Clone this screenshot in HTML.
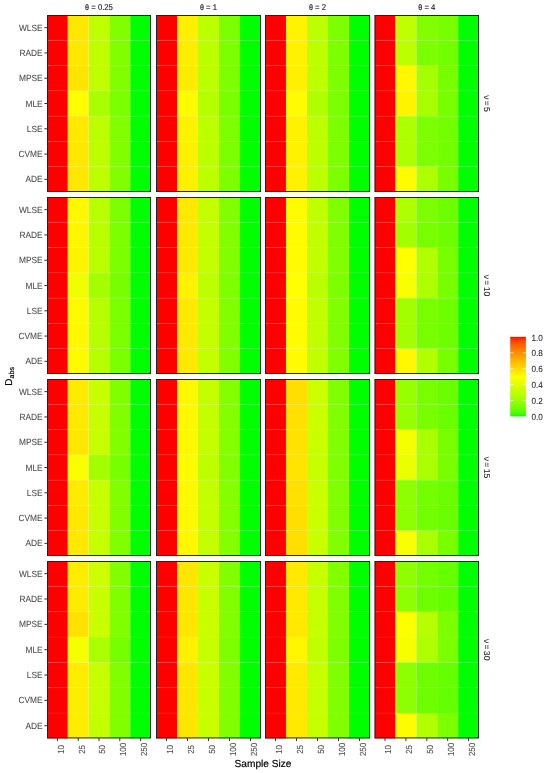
<!DOCTYPE html><html><head><meta charset="utf-8"><style>html,body{margin:0;padding:0;background:#fff;}svg{display:block;will-change:transform;}text{font-family:"Liberation Sans", sans-serif;text-rendering:geometricPrecision;}</style></head><body>
<svg width="550" height="773" viewBox="0 0 550 773">
<rect width="550" height="773" fill="#fff"/>
<rect x="47.00" y="15.00" width="20.82" height="25.31" fill="#ff0000"/>
<rect x="67.80" y="15.00" width="20.82" height="25.31" fill="#ffe700"/>
<rect x="88.60" y="15.00" width="20.82" height="25.31" fill="#c0ff00"/>
<rect x="109.40" y="15.00" width="20.82" height="25.31" fill="#81ff00"/>
<rect x="130.20" y="15.00" width="20.82" height="25.31" fill="#00ff00"/>
<rect x="47.00" y="40.29" width="20.82" height="25.31" fill="#ff0000"/>
<rect x="67.80" y="40.29" width="20.82" height="25.31" fill="#ffe700"/>
<rect x="88.60" y="40.29" width="20.82" height="25.31" fill="#c0ff00"/>
<rect x="109.40" y="40.29" width="20.82" height="25.31" fill="#81ff00"/>
<rect x="130.20" y="40.29" width="20.82" height="25.31" fill="#00ff00"/>
<rect x="47.00" y="65.57" width="20.82" height="25.31" fill="#ff0000"/>
<rect x="67.80" y="65.57" width="20.82" height="25.31" fill="#ffe400"/>
<rect x="88.60" y="65.57" width="20.82" height="25.31" fill="#c0ff00"/>
<rect x="109.40" y="65.57" width="20.82" height="25.31" fill="#81ff00"/>
<rect x="130.20" y="65.57" width="20.82" height="25.31" fill="#00ff00"/>
<rect x="47.00" y="90.86" width="20.82" height="25.31" fill="#ff0000"/>
<rect x="67.80" y="90.86" width="20.82" height="25.31" fill="#fffd00"/>
<rect x="88.60" y="90.86" width="20.82" height="25.31" fill="#a8ff00"/>
<rect x="109.40" y="90.86" width="20.82" height="25.31" fill="#7cff00"/>
<rect x="130.20" y="90.86" width="20.82" height="25.31" fill="#00ff00"/>
<rect x="47.00" y="116.14" width="20.82" height="25.31" fill="#ff0000"/>
<rect x="67.80" y="116.14" width="20.82" height="25.31" fill="#ffe900"/>
<rect x="88.60" y="116.14" width="20.82" height="25.31" fill="#bcff00"/>
<rect x="109.40" y="116.14" width="20.82" height="25.31" fill="#81ff00"/>
<rect x="130.20" y="116.14" width="20.82" height="25.31" fill="#00ff00"/>
<rect x="47.00" y="141.43" width="20.82" height="25.31" fill="#ff0000"/>
<rect x="67.80" y="141.43" width="20.82" height="25.31" fill="#ffe700"/>
<rect x="88.60" y="141.43" width="20.82" height="25.31" fill="#beff00"/>
<rect x="109.40" y="141.43" width="20.82" height="25.31" fill="#81ff00"/>
<rect x="130.20" y="141.43" width="20.82" height="25.31" fill="#00ff00"/>
<rect x="47.00" y="166.71" width="20.82" height="25.31" fill="#ff0000"/>
<rect x="67.80" y="166.71" width="20.82" height="25.31" fill="#ffe700"/>
<rect x="88.60" y="166.71" width="20.82" height="25.31" fill="#beff00"/>
<rect x="109.40" y="166.71" width="20.82" height="25.31" fill="#81ff00"/>
<rect x="130.20" y="166.71" width="20.82" height="25.31" fill="#00ff00"/>
<path d="M47.00 40.29H151.00M47.00 65.57H151.00M47.00 90.86H151.00M47.00 116.14H151.00M47.00 141.43H151.00M47.00 166.71H151.00" stroke="#ffffff" stroke-opacity="0.13" stroke-width="0.6" fill="none"/>
<path d="M67.80 15.00V192.00M88.60 15.00V192.00M109.40 15.00V192.00M130.20 15.00V192.00" stroke="#ffffff" stroke-opacity="0.09" stroke-width="0.6" fill="none"/>
<rect x="47.50" y="15.50" width="103.00" height="176.00" fill="none" stroke="#222" stroke-width="1"/>
<rect x="156.00" y="15.00" width="21.02" height="25.31" fill="#ff0000"/>
<rect x="177.00" y="15.00" width="21.02" height="25.31" fill="#ffef00"/>
<rect x="198.00" y="15.00" width="21.02" height="25.31" fill="#bcff00"/>
<rect x="219.00" y="15.00" width="21.02" height="25.31" fill="#7cff00"/>
<rect x="240.00" y="15.00" width="21.02" height="25.31" fill="#00ff00"/>
<rect x="156.00" y="40.29" width="21.02" height="25.31" fill="#ff0000"/>
<rect x="177.00" y="40.29" width="21.02" height="25.31" fill="#ffed00"/>
<rect x="198.00" y="40.29" width="21.02" height="25.31" fill="#bcff00"/>
<rect x="219.00" y="40.29" width="21.02" height="25.31" fill="#7cff00"/>
<rect x="240.00" y="40.29" width="21.02" height="25.31" fill="#00ff00"/>
<rect x="156.00" y="65.57" width="21.02" height="25.31" fill="#ff0000"/>
<rect x="177.00" y="65.57" width="21.02" height="25.31" fill="#ffeb00"/>
<rect x="198.00" y="65.57" width="21.02" height="25.31" fill="#bcff00"/>
<rect x="219.00" y="65.57" width="21.02" height="25.31" fill="#7cff00"/>
<rect x="240.00" y="65.57" width="21.02" height="25.31" fill="#00ff00"/>
<rect x="156.00" y="90.86" width="21.02" height="25.31" fill="#ff0000"/>
<rect x="177.00" y="90.86" width="21.02" height="25.31" fill="#fffb00"/>
<rect x="198.00" y="90.86" width="21.02" height="25.31" fill="#b5ff00"/>
<rect x="219.00" y="90.86" width="21.02" height="25.31" fill="#7aff00"/>
<rect x="240.00" y="90.86" width="21.02" height="25.31" fill="#00ff00"/>
<rect x="156.00" y="116.14" width="21.02" height="25.31" fill="#ff0000"/>
<rect x="177.00" y="116.14" width="21.02" height="25.31" fill="#fff200"/>
<rect x="198.00" y="116.14" width="21.02" height="25.31" fill="#bcff00"/>
<rect x="219.00" y="116.14" width="21.02" height="25.31" fill="#7cff00"/>
<rect x="240.00" y="116.14" width="21.02" height="25.31" fill="#00ff00"/>
<rect x="156.00" y="141.43" width="21.02" height="25.31" fill="#ff0000"/>
<rect x="177.00" y="141.43" width="21.02" height="25.31" fill="#fff000"/>
<rect x="198.00" y="141.43" width="21.02" height="25.31" fill="#bcff00"/>
<rect x="219.00" y="141.43" width="21.02" height="25.31" fill="#7cff00"/>
<rect x="240.00" y="141.43" width="21.02" height="25.31" fill="#00ff00"/>
<rect x="156.00" y="166.71" width="21.02" height="25.31" fill="#ff0000"/>
<rect x="177.00" y="166.71" width="21.02" height="25.31" fill="#fff000"/>
<rect x="198.00" y="166.71" width="21.02" height="25.31" fill="#bcff00"/>
<rect x="219.00" y="166.71" width="21.02" height="25.31" fill="#7cff00"/>
<rect x="240.00" y="166.71" width="21.02" height="25.31" fill="#00ff00"/>
<path d="M156.00 40.29H261.00M156.00 65.57H261.00M156.00 90.86H261.00M156.00 116.14H261.00M156.00 141.43H261.00M156.00 166.71H261.00" stroke="#ffffff" stroke-opacity="0.13" stroke-width="0.6" fill="none"/>
<path d="M177.00 15.00V192.00M198.00 15.00V192.00M219.00 15.00V192.00M240.00 15.00V192.00" stroke="#ffffff" stroke-opacity="0.09" stroke-width="0.6" fill="none"/>
<rect x="156.50" y="15.50" width="104.00" height="176.00" fill="none" stroke="#222" stroke-width="1"/>
<rect x="265.00" y="15.00" width="21.02" height="25.31" fill="#ff0000"/>
<rect x="286.00" y="15.00" width="21.02" height="25.31" fill="#fff400"/>
<rect x="307.00" y="15.00" width="21.02" height="25.31" fill="#bcff00"/>
<rect x="328.00" y="15.00" width="21.02" height="25.31" fill="#7eff00"/>
<rect x="349.00" y="15.00" width="21.02" height="25.31" fill="#00ff00"/>
<rect x="265.00" y="40.29" width="21.02" height="25.31" fill="#ff0000"/>
<rect x="286.00" y="40.29" width="21.02" height="25.31" fill="#fff200"/>
<rect x="307.00" y="40.29" width="21.02" height="25.31" fill="#bcff00"/>
<rect x="328.00" y="40.29" width="21.02" height="25.31" fill="#7eff00"/>
<rect x="349.00" y="40.29" width="21.02" height="25.31" fill="#00ff00"/>
<rect x="265.00" y="65.57" width="21.02" height="25.31" fill="#ff0000"/>
<rect x="286.00" y="65.57" width="21.02" height="25.31" fill="#ffef00"/>
<rect x="307.00" y="65.57" width="21.02" height="25.31" fill="#bcff00"/>
<rect x="328.00" y="65.57" width="21.02" height="25.31" fill="#7eff00"/>
<rect x="349.00" y="65.57" width="21.02" height="25.31" fill="#00ff00"/>
<rect x="265.00" y="90.86" width="21.02" height="25.31" fill="#ff0000"/>
<rect x="286.00" y="90.86" width="21.02" height="25.31" fill="#fffb00"/>
<rect x="307.00" y="90.86" width="21.02" height="25.31" fill="#b0ff00"/>
<rect x="328.00" y="90.86" width="21.02" height="25.31" fill="#7cff00"/>
<rect x="349.00" y="90.86" width="21.02" height="25.31" fill="#00ff00"/>
<rect x="265.00" y="116.14" width="21.02" height="25.31" fill="#ff0000"/>
<rect x="286.00" y="116.14" width="21.02" height="25.31" fill="#fff200"/>
<rect x="307.00" y="116.14" width="21.02" height="25.31" fill="#bcff00"/>
<rect x="328.00" y="116.14" width="21.02" height="25.31" fill="#7eff00"/>
<rect x="349.00" y="116.14" width="21.02" height="25.31" fill="#00ff00"/>
<rect x="265.00" y="141.43" width="21.02" height="25.31" fill="#ff0000"/>
<rect x="286.00" y="141.43" width="21.02" height="25.31" fill="#fff200"/>
<rect x="307.00" y="141.43" width="21.02" height="25.31" fill="#bcff00"/>
<rect x="328.00" y="141.43" width="21.02" height="25.31" fill="#7eff00"/>
<rect x="349.00" y="141.43" width="21.02" height="25.31" fill="#00ff00"/>
<rect x="265.00" y="166.71" width="21.02" height="25.31" fill="#ff0000"/>
<rect x="286.00" y="166.71" width="21.02" height="25.31" fill="#fff200"/>
<rect x="307.00" y="166.71" width="21.02" height="25.31" fill="#bcff00"/>
<rect x="328.00" y="166.71" width="21.02" height="25.31" fill="#7eff00"/>
<rect x="349.00" y="166.71" width="21.02" height="25.31" fill="#00ff00"/>
<path d="M265.00 40.29H370.00M265.00 65.57H370.00M265.00 90.86H370.00M265.00 116.14H370.00M265.00 141.43H370.00M265.00 166.71H370.00" stroke="#ffffff" stroke-opacity="0.13" stroke-width="0.6" fill="none"/>
<path d="M286.00 15.00V192.00M307.00 15.00V192.00M328.00 15.00V192.00M349.00 15.00V192.00" stroke="#ffffff" stroke-opacity="0.09" stroke-width="0.6" fill="none"/>
<rect x="265.50" y="15.50" width="104.00" height="176.00" fill="none" stroke="#222" stroke-width="1"/>
<rect x="374.60" y="15.00" width="20.90" height="25.31" fill="#ff0000"/>
<rect x="395.48" y="15.00" width="20.90" height="25.31" fill="#c0ff00"/>
<rect x="416.36" y="15.00" width="20.90" height="25.31" fill="#81ff00"/>
<rect x="437.24" y="15.00" width="20.90" height="25.31" fill="#77ff00"/>
<rect x="458.12" y="15.00" width="20.90" height="25.31" fill="#00ff00"/>
<rect x="374.60" y="40.29" width="20.90" height="25.31" fill="#ff0000"/>
<rect x="395.48" y="40.29" width="20.90" height="25.31" fill="#bcff00"/>
<rect x="416.36" y="40.29" width="20.90" height="25.31" fill="#7cff00"/>
<rect x="437.24" y="40.29" width="20.90" height="25.31" fill="#72ff00"/>
<rect x="458.12" y="40.29" width="20.90" height="25.31" fill="#00ff00"/>
<rect x="374.60" y="65.57" width="20.90" height="25.31" fill="#ff0000"/>
<rect x="395.48" y="65.57" width="20.90" height="25.31" fill="#fff800"/>
<rect x="416.36" y="65.57" width="20.90" height="25.31" fill="#a6ff00"/>
<rect x="437.24" y="65.57" width="20.90" height="25.31" fill="#77ff00"/>
<rect x="458.12" y="65.57" width="20.90" height="25.31" fill="#00ff00"/>
<rect x="374.60" y="90.86" width="20.90" height="25.31" fill="#ff0000"/>
<rect x="395.48" y="90.86" width="20.90" height="25.31" fill="#fff400"/>
<rect x="416.36" y="90.86" width="20.90" height="25.31" fill="#a8ff00"/>
<rect x="437.24" y="90.86" width="20.90" height="25.31" fill="#77ff00"/>
<rect x="458.12" y="90.86" width="20.90" height="25.31" fill="#00ff00"/>
<rect x="374.60" y="116.14" width="20.90" height="25.31" fill="#ff0000"/>
<rect x="395.48" y="116.14" width="20.90" height="25.31" fill="#aeff00"/>
<rect x="416.36" y="116.14" width="20.90" height="25.31" fill="#7cff00"/>
<rect x="437.24" y="116.14" width="20.90" height="25.31" fill="#72ff00"/>
<rect x="458.12" y="116.14" width="20.90" height="25.31" fill="#00ff00"/>
<rect x="374.60" y="141.43" width="20.90" height="25.31" fill="#ff0000"/>
<rect x="395.48" y="141.43" width="20.90" height="25.31" fill="#aeff00"/>
<rect x="416.36" y="141.43" width="20.90" height="25.31" fill="#7cff00"/>
<rect x="437.24" y="141.43" width="20.90" height="25.31" fill="#72ff00"/>
<rect x="458.12" y="141.43" width="20.90" height="25.31" fill="#00ff00"/>
<rect x="374.60" y="166.71" width="20.90" height="25.31" fill="#ff0000"/>
<rect x="395.48" y="166.71" width="20.90" height="25.31" fill="#fffb00"/>
<rect x="416.36" y="166.71" width="20.90" height="25.31" fill="#aeff00"/>
<rect x="437.24" y="166.71" width="20.90" height="25.31" fill="#77ff00"/>
<rect x="458.12" y="166.71" width="20.90" height="25.31" fill="#00ff00"/>
<path d="M374.60 40.29H479.00M374.60 65.57H479.00M374.60 90.86H479.00M374.60 116.14H479.00M374.60 141.43H479.00M374.60 166.71H479.00" stroke="#ffffff" stroke-opacity="0.13" stroke-width="0.6" fill="none"/>
<path d="M395.48 15.00V192.00M416.36 15.00V192.00M437.24 15.00V192.00M458.12 15.00V192.00" stroke="#ffffff" stroke-opacity="0.09" stroke-width="0.6" fill="none"/>
<rect x="375.10" y="15.50" width="103.40" height="176.00" fill="none" stroke="#222" stroke-width="1"/>
<rect x="47.00" y="197.00" width="20.82" height="25.31" fill="#ff0000"/>
<rect x="67.80" y="197.00" width="20.82" height="25.31" fill="#fff800"/>
<rect x="88.60" y="197.00" width="20.82" height="25.31" fill="#b9ff00"/>
<rect x="109.40" y="197.00" width="20.82" height="25.31" fill="#7cff00"/>
<rect x="130.20" y="197.00" width="20.82" height="25.31" fill="#00ff00"/>
<rect x="47.00" y="222.29" width="20.82" height="25.31" fill="#ff0000"/>
<rect x="67.80" y="222.29" width="20.82" height="25.31" fill="#fff600"/>
<rect x="88.60" y="222.29" width="20.82" height="25.31" fill="#b9ff00"/>
<rect x="109.40" y="222.29" width="20.82" height="25.31" fill="#7cff00"/>
<rect x="130.20" y="222.29" width="20.82" height="25.31" fill="#00ff00"/>
<rect x="47.00" y="247.57" width="20.82" height="25.31" fill="#ff0000"/>
<rect x="67.80" y="247.57" width="20.82" height="25.31" fill="#fff400"/>
<rect x="88.60" y="247.57" width="20.82" height="25.31" fill="#b9ff00"/>
<rect x="109.40" y="247.57" width="20.82" height="25.31" fill="#7cff00"/>
<rect x="130.20" y="247.57" width="20.82" height="25.31" fill="#00ff00"/>
<rect x="47.00" y="272.86" width="20.82" height="25.31" fill="#ff0000"/>
<rect x="67.80" y="272.86" width="20.82" height="25.31" fill="#f0ff00"/>
<rect x="88.60" y="272.86" width="20.82" height="25.31" fill="#a3ff00"/>
<rect x="109.40" y="272.86" width="20.82" height="25.31" fill="#77ff00"/>
<rect x="130.20" y="272.86" width="20.82" height="25.31" fill="#00ff00"/>
<rect x="47.00" y="298.14" width="20.82" height="25.31" fill="#ff0000"/>
<rect x="67.80" y="298.14" width="20.82" height="25.31" fill="#fffa00"/>
<rect x="88.60" y="298.14" width="20.82" height="25.31" fill="#b7ff00"/>
<rect x="109.40" y="298.14" width="20.82" height="25.31" fill="#7cff00"/>
<rect x="130.20" y="298.14" width="20.82" height="25.31" fill="#00ff00"/>
<rect x="47.00" y="323.43" width="20.82" height="25.31" fill="#ff0000"/>
<rect x="67.80" y="323.43" width="20.82" height="25.31" fill="#fff800"/>
<rect x="88.60" y="323.43" width="20.82" height="25.31" fill="#b7ff00"/>
<rect x="109.40" y="323.43" width="20.82" height="25.31" fill="#7cff00"/>
<rect x="130.20" y="323.43" width="20.82" height="25.31" fill="#00ff00"/>
<rect x="47.00" y="348.71" width="20.82" height="25.31" fill="#ff0000"/>
<rect x="67.80" y="348.71" width="20.82" height="25.31" fill="#fffa00"/>
<rect x="88.60" y="348.71" width="20.82" height="25.31" fill="#b7ff00"/>
<rect x="109.40" y="348.71" width="20.82" height="25.31" fill="#7cff00"/>
<rect x="130.20" y="348.71" width="20.82" height="25.31" fill="#00ff00"/>
<path d="M47.00 222.29H151.00M47.00 247.57H151.00M47.00 272.86H151.00M47.00 298.14H151.00M47.00 323.43H151.00M47.00 348.71H151.00" stroke="#ffffff" stroke-opacity="0.13" stroke-width="0.6" fill="none"/>
<path d="M67.80 197.00V374.00M88.60 197.00V374.00M109.40 197.00V374.00M130.20 197.00V374.00" stroke="#ffffff" stroke-opacity="0.09" stroke-width="0.6" fill="none"/>
<rect x="47.50" y="197.50" width="103.00" height="176.00" fill="none" stroke="#222" stroke-width="1"/>
<rect x="156.00" y="197.00" width="21.02" height="25.31" fill="#ff0000"/>
<rect x="177.00" y="197.00" width="21.02" height="25.31" fill="#ffe900"/>
<rect x="198.00" y="197.00" width="21.02" height="25.31" fill="#c3ff00"/>
<rect x="219.00" y="197.00" width="21.02" height="25.31" fill="#81ff00"/>
<rect x="240.00" y="197.00" width="21.02" height="25.31" fill="#00ff00"/>
<rect x="156.00" y="222.29" width="21.02" height="25.31" fill="#ff0000"/>
<rect x="177.00" y="222.29" width="21.02" height="25.31" fill="#ffe900"/>
<rect x="198.00" y="222.29" width="21.02" height="25.31" fill="#c3ff00"/>
<rect x="219.00" y="222.29" width="21.02" height="25.31" fill="#81ff00"/>
<rect x="240.00" y="222.29" width="21.02" height="25.31" fill="#00ff00"/>
<rect x="156.00" y="247.57" width="21.02" height="25.31" fill="#ff0000"/>
<rect x="177.00" y="247.57" width="21.02" height="25.31" fill="#ffe900"/>
<rect x="198.00" y="247.57" width="21.02" height="25.31" fill="#c3ff00"/>
<rect x="219.00" y="247.57" width="21.02" height="25.31" fill="#81ff00"/>
<rect x="240.00" y="247.57" width="21.02" height="25.31" fill="#00ff00"/>
<rect x="156.00" y="272.86" width="21.02" height="25.31" fill="#ff0000"/>
<rect x="177.00" y="272.86" width="21.02" height="25.31" fill="#fff200"/>
<rect x="198.00" y="272.86" width="21.02" height="25.31" fill="#bcff00"/>
<rect x="219.00" y="272.86" width="21.02" height="25.31" fill="#7eff00"/>
<rect x="240.00" y="272.86" width="21.02" height="25.31" fill="#00ff00"/>
<rect x="156.00" y="298.14" width="21.02" height="25.31" fill="#ff0000"/>
<rect x="177.00" y="298.14" width="21.02" height="25.31" fill="#ffe900"/>
<rect x="198.00" y="298.14" width="21.02" height="25.31" fill="#c3ff00"/>
<rect x="219.00" y="298.14" width="21.02" height="25.31" fill="#81ff00"/>
<rect x="240.00" y="298.14" width="21.02" height="25.31" fill="#00ff00"/>
<rect x="156.00" y="323.43" width="21.02" height="25.31" fill="#ff0000"/>
<rect x="177.00" y="323.43" width="21.02" height="25.31" fill="#ffe900"/>
<rect x="198.00" y="323.43" width="21.02" height="25.31" fill="#c3ff00"/>
<rect x="219.00" y="323.43" width="21.02" height="25.31" fill="#81ff00"/>
<rect x="240.00" y="323.43" width="21.02" height="25.31" fill="#00ff00"/>
<rect x="156.00" y="348.71" width="21.02" height="25.31" fill="#ff0000"/>
<rect x="177.00" y="348.71" width="21.02" height="25.31" fill="#ffe900"/>
<rect x="198.00" y="348.71" width="21.02" height="25.31" fill="#c3ff00"/>
<rect x="219.00" y="348.71" width="21.02" height="25.31" fill="#81ff00"/>
<rect x="240.00" y="348.71" width="21.02" height="25.31" fill="#00ff00"/>
<path d="M156.00 222.29H261.00M156.00 247.57H261.00M156.00 272.86H261.00M156.00 298.14H261.00M156.00 323.43H261.00M156.00 348.71H261.00" stroke="#ffffff" stroke-opacity="0.13" stroke-width="0.6" fill="none"/>
<path d="M177.00 197.00V374.00M198.00 197.00V374.00M219.00 197.00V374.00M240.00 197.00V374.00" stroke="#ffffff" stroke-opacity="0.09" stroke-width="0.6" fill="none"/>
<rect x="156.50" y="197.50" width="104.00" height="176.00" fill="none" stroke="#222" stroke-width="1"/>
<rect x="265.00" y="197.00" width="21.02" height="25.31" fill="#ff0000"/>
<rect x="286.00" y="197.00" width="21.02" height="25.31" fill="#fffb00"/>
<rect x="307.00" y="197.00" width="21.02" height="25.31" fill="#c0ff00"/>
<rect x="328.00" y="197.00" width="21.02" height="25.31" fill="#81ff00"/>
<rect x="349.00" y="197.00" width="21.02" height="25.31" fill="#00ff00"/>
<rect x="265.00" y="222.29" width="21.02" height="25.31" fill="#ff0000"/>
<rect x="286.00" y="222.29" width="21.02" height="25.31" fill="#fffb00"/>
<rect x="307.00" y="222.29" width="21.02" height="25.31" fill="#c0ff00"/>
<rect x="328.00" y="222.29" width="21.02" height="25.31" fill="#81ff00"/>
<rect x="349.00" y="222.29" width="21.02" height="25.31" fill="#00ff00"/>
<rect x="265.00" y="247.57" width="21.02" height="25.31" fill="#ff0000"/>
<rect x="286.00" y="247.57" width="21.02" height="25.31" fill="#fffb00"/>
<rect x="307.00" y="247.57" width="21.02" height="25.31" fill="#c0ff00"/>
<rect x="328.00" y="247.57" width="21.02" height="25.31" fill="#81ff00"/>
<rect x="349.00" y="247.57" width="21.02" height="25.31" fill="#00ff00"/>
<rect x="265.00" y="272.86" width="21.02" height="25.31" fill="#ff0000"/>
<rect x="286.00" y="272.86" width="21.02" height="25.31" fill="#ffff00"/>
<rect x="307.00" y="272.86" width="21.02" height="25.31" fill="#b9ff00"/>
<rect x="328.00" y="272.86" width="21.02" height="25.31" fill="#7eff00"/>
<rect x="349.00" y="272.86" width="21.02" height="25.31" fill="#00ff00"/>
<rect x="265.00" y="298.14" width="21.02" height="25.31" fill="#ff0000"/>
<rect x="286.00" y="298.14" width="21.02" height="25.31" fill="#fffb00"/>
<rect x="307.00" y="298.14" width="21.02" height="25.31" fill="#c0ff00"/>
<rect x="328.00" y="298.14" width="21.02" height="25.31" fill="#81ff00"/>
<rect x="349.00" y="298.14" width="21.02" height="25.31" fill="#00ff00"/>
<rect x="265.00" y="323.43" width="21.02" height="25.31" fill="#ff0000"/>
<rect x="286.00" y="323.43" width="21.02" height="25.31" fill="#fffb00"/>
<rect x="307.00" y="323.43" width="21.02" height="25.31" fill="#c0ff00"/>
<rect x="328.00" y="323.43" width="21.02" height="25.31" fill="#81ff00"/>
<rect x="349.00" y="323.43" width="21.02" height="25.31" fill="#00ff00"/>
<rect x="265.00" y="348.71" width="21.02" height="25.31" fill="#ff0000"/>
<rect x="286.00" y="348.71" width="21.02" height="25.31" fill="#fffb00"/>
<rect x="307.00" y="348.71" width="21.02" height="25.31" fill="#c0ff00"/>
<rect x="328.00" y="348.71" width="21.02" height="25.31" fill="#81ff00"/>
<rect x="349.00" y="348.71" width="21.02" height="25.31" fill="#00ff00"/>
<path d="M265.00 222.29H370.00M265.00 247.57H370.00M265.00 272.86H370.00M265.00 298.14H370.00M265.00 323.43H370.00M265.00 348.71H370.00" stroke="#ffffff" stroke-opacity="0.13" stroke-width="0.6" fill="none"/>
<path d="M286.00 197.00V374.00M307.00 197.00V374.00M328.00 197.00V374.00M349.00 197.00V374.00" stroke="#ffffff" stroke-opacity="0.09" stroke-width="0.6" fill="none"/>
<rect x="265.50" y="197.50" width="104.00" height="176.00" fill="none" stroke="#222" stroke-width="1"/>
<rect x="374.60" y="197.00" width="20.90" height="25.31" fill="#ff0000"/>
<rect x="395.48" y="197.00" width="20.90" height="25.31" fill="#aeff00"/>
<rect x="416.36" y="197.00" width="20.90" height="25.31" fill="#7cff00"/>
<rect x="437.24" y="197.00" width="20.90" height="25.31" fill="#6dff00"/>
<rect x="458.12" y="197.00" width="20.90" height="25.31" fill="#00ff00"/>
<rect x="374.60" y="222.29" width="20.90" height="25.31" fill="#ff0000"/>
<rect x="395.48" y="222.29" width="20.90" height="25.31" fill="#a3ff00"/>
<rect x="416.36" y="222.29" width="20.90" height="25.31" fill="#77ff00"/>
<rect x="437.24" y="222.29" width="20.90" height="25.31" fill="#6dff00"/>
<rect x="458.12" y="222.29" width="20.90" height="25.31" fill="#00ff00"/>
<rect x="374.60" y="247.57" width="20.90" height="25.31" fill="#ff0000"/>
<rect x="395.48" y="247.57" width="20.90" height="25.31" fill="#ffff00"/>
<rect x="416.36" y="247.57" width="20.90" height="25.31" fill="#b2ff00"/>
<rect x="437.24" y="247.57" width="20.90" height="25.31" fill="#77ff00"/>
<rect x="458.12" y="247.57" width="20.90" height="25.31" fill="#00ff00"/>
<rect x="374.60" y="272.86" width="20.90" height="25.31" fill="#ff0000"/>
<rect x="395.48" y="272.86" width="20.90" height="25.31" fill="#f9ff00"/>
<rect x="416.36" y="272.86" width="20.90" height="25.31" fill="#aeff00"/>
<rect x="437.24" y="272.86" width="20.90" height="25.31" fill="#77ff00"/>
<rect x="458.12" y="272.86" width="20.90" height="25.31" fill="#00ff00"/>
<rect x="374.60" y="298.14" width="20.90" height="25.31" fill="#ff0000"/>
<rect x="395.48" y="298.14" width="20.90" height="25.31" fill="#a3ff00"/>
<rect x="416.36" y="298.14" width="20.90" height="25.31" fill="#77ff00"/>
<rect x="437.24" y="298.14" width="20.90" height="25.31" fill="#6dff00"/>
<rect x="458.12" y="298.14" width="20.90" height="25.31" fill="#00ff00"/>
<rect x="374.60" y="323.43" width="20.90" height="25.31" fill="#ff0000"/>
<rect x="395.48" y="323.43" width="20.90" height="25.31" fill="#a3ff00"/>
<rect x="416.36" y="323.43" width="20.90" height="25.31" fill="#77ff00"/>
<rect x="437.24" y="323.43" width="20.90" height="25.31" fill="#6dff00"/>
<rect x="458.12" y="323.43" width="20.90" height="25.31" fill="#00ff00"/>
<rect x="374.60" y="348.71" width="20.90" height="25.31" fill="#ff0000"/>
<rect x="395.48" y="348.71" width="20.90" height="25.31" fill="#fff800"/>
<rect x="416.36" y="348.71" width="20.90" height="25.31" fill="#b2ff00"/>
<rect x="437.24" y="348.71" width="20.90" height="25.31" fill="#77ff00"/>
<rect x="458.12" y="348.71" width="20.90" height="25.31" fill="#00ff00"/>
<path d="M374.60 222.29H479.00M374.60 247.57H479.00M374.60 272.86H479.00M374.60 298.14H479.00M374.60 323.43H479.00M374.60 348.71H479.00" stroke="#ffffff" stroke-opacity="0.13" stroke-width="0.6" fill="none"/>
<path d="M395.48 197.00V374.00M416.36 197.00V374.00M437.24 197.00V374.00M458.12 197.00V374.00" stroke="#ffffff" stroke-opacity="0.09" stroke-width="0.6" fill="none"/>
<rect x="375.10" y="197.50" width="103.40" height="176.00" fill="none" stroke="#222" stroke-width="1"/>
<rect x="47.00" y="379.00" width="20.82" height="25.31" fill="#ff0000"/>
<rect x="67.80" y="379.00" width="20.82" height="25.31" fill="#ffeb00"/>
<rect x="88.60" y="379.00" width="20.82" height="25.31" fill="#caff00"/>
<rect x="109.40" y="379.00" width="20.82" height="25.31" fill="#81ff00"/>
<rect x="130.20" y="379.00" width="20.82" height="25.31" fill="#00ff00"/>
<rect x="47.00" y="404.29" width="20.82" height="25.31" fill="#ff0000"/>
<rect x="67.80" y="404.29" width="20.82" height="25.31" fill="#ffe900"/>
<rect x="88.60" y="404.29" width="20.82" height="25.31" fill="#c8ff00"/>
<rect x="109.40" y="404.29" width="20.82" height="25.31" fill="#81ff00"/>
<rect x="130.20" y="404.29" width="20.82" height="25.31" fill="#00ff00"/>
<rect x="47.00" y="429.57" width="20.82" height="25.31" fill="#ff0000"/>
<rect x="67.80" y="429.57" width="20.82" height="25.31" fill="#ffe700"/>
<rect x="88.60" y="429.57" width="20.82" height="25.31" fill="#c6ff00"/>
<rect x="109.40" y="429.57" width="20.82" height="25.31" fill="#81ff00"/>
<rect x="130.20" y="429.57" width="20.82" height="25.31" fill="#00ff00"/>
<rect x="47.00" y="454.86" width="20.82" height="25.31" fill="#ff0000"/>
<rect x="67.80" y="454.86" width="20.82" height="25.31" fill="#f9ff00"/>
<rect x="88.60" y="454.86" width="20.82" height="25.31" fill="#a3ff00"/>
<rect x="109.40" y="454.86" width="20.82" height="25.31" fill="#77ff00"/>
<rect x="130.20" y="454.86" width="20.82" height="25.31" fill="#00ff00"/>
<rect x="47.00" y="480.14" width="20.82" height="25.31" fill="#ff0000"/>
<rect x="67.80" y="480.14" width="20.82" height="25.31" fill="#ffeb00"/>
<rect x="88.60" y="480.14" width="20.82" height="25.31" fill="#c6ff00"/>
<rect x="109.40" y="480.14" width="20.82" height="25.31" fill="#81ff00"/>
<rect x="130.20" y="480.14" width="20.82" height="25.31" fill="#00ff00"/>
<rect x="47.00" y="505.43" width="20.82" height="25.31" fill="#ff0000"/>
<rect x="67.80" y="505.43" width="20.82" height="25.31" fill="#ffe700"/>
<rect x="88.60" y="505.43" width="20.82" height="25.31" fill="#c8ff00"/>
<rect x="109.40" y="505.43" width="20.82" height="25.31" fill="#81ff00"/>
<rect x="130.20" y="505.43" width="20.82" height="25.31" fill="#00ff00"/>
<rect x="47.00" y="530.71" width="20.82" height="25.31" fill="#ff0000"/>
<rect x="67.80" y="530.71" width="20.82" height="25.31" fill="#ffe900"/>
<rect x="88.60" y="530.71" width="20.82" height="25.31" fill="#c6ff00"/>
<rect x="109.40" y="530.71" width="20.82" height="25.31" fill="#81ff00"/>
<rect x="130.20" y="530.71" width="20.82" height="25.31" fill="#00ff00"/>
<path d="M47.00 404.29H151.00M47.00 429.57H151.00M47.00 454.86H151.00M47.00 480.14H151.00M47.00 505.43H151.00M47.00 530.71H151.00" stroke="#ffffff" stroke-opacity="0.13" stroke-width="0.6" fill="none"/>
<path d="M67.80 379.00V556.00M88.60 379.00V556.00M109.40 379.00V556.00M130.20 379.00V556.00" stroke="#ffffff" stroke-opacity="0.09" stroke-width="0.6" fill="none"/>
<rect x="47.50" y="379.50" width="103.00" height="176.00" fill="none" stroke="#222" stroke-width="1"/>
<rect x="156.00" y="379.00" width="21.02" height="25.31" fill="#ff0000"/>
<rect x="177.00" y="379.00" width="21.02" height="25.31" fill="#fff800"/>
<rect x="198.00" y="379.00" width="21.02" height="25.31" fill="#c3ff00"/>
<rect x="219.00" y="379.00" width="21.02" height="25.31" fill="#83ff00"/>
<rect x="240.00" y="379.00" width="21.02" height="25.31" fill="#00ff00"/>
<rect x="156.00" y="404.29" width="21.02" height="25.31" fill="#ff0000"/>
<rect x="177.00" y="404.29" width="21.02" height="25.31" fill="#fff800"/>
<rect x="198.00" y="404.29" width="21.02" height="25.31" fill="#c3ff00"/>
<rect x="219.00" y="404.29" width="21.02" height="25.31" fill="#83ff00"/>
<rect x="240.00" y="404.29" width="21.02" height="25.31" fill="#00ff00"/>
<rect x="156.00" y="429.57" width="21.02" height="25.31" fill="#ff0000"/>
<rect x="177.00" y="429.57" width="21.02" height="25.31" fill="#fff800"/>
<rect x="198.00" y="429.57" width="21.02" height="25.31" fill="#c3ff00"/>
<rect x="219.00" y="429.57" width="21.02" height="25.31" fill="#83ff00"/>
<rect x="240.00" y="429.57" width="21.02" height="25.31" fill="#00ff00"/>
<rect x="156.00" y="454.86" width="21.02" height="25.31" fill="#ff0000"/>
<rect x="177.00" y="454.86" width="21.02" height="25.31" fill="#fffb00"/>
<rect x="198.00" y="454.86" width="21.02" height="25.31" fill="#beff00"/>
<rect x="219.00" y="454.86" width="21.02" height="25.31" fill="#81ff00"/>
<rect x="240.00" y="454.86" width="21.02" height="25.31" fill="#00ff00"/>
<rect x="156.00" y="480.14" width="21.02" height="25.31" fill="#ff0000"/>
<rect x="177.00" y="480.14" width="21.02" height="25.31" fill="#fff800"/>
<rect x="198.00" y="480.14" width="21.02" height="25.31" fill="#c3ff00"/>
<rect x="219.00" y="480.14" width="21.02" height="25.31" fill="#83ff00"/>
<rect x="240.00" y="480.14" width="21.02" height="25.31" fill="#00ff00"/>
<rect x="156.00" y="505.43" width="21.02" height="25.31" fill="#ff0000"/>
<rect x="177.00" y="505.43" width="21.02" height="25.31" fill="#fff800"/>
<rect x="198.00" y="505.43" width="21.02" height="25.31" fill="#c3ff00"/>
<rect x="219.00" y="505.43" width="21.02" height="25.31" fill="#83ff00"/>
<rect x="240.00" y="505.43" width="21.02" height="25.31" fill="#00ff00"/>
<rect x="156.00" y="530.71" width="21.02" height="25.31" fill="#ff0000"/>
<rect x="177.00" y="530.71" width="21.02" height="25.31" fill="#fff800"/>
<rect x="198.00" y="530.71" width="21.02" height="25.31" fill="#c3ff00"/>
<rect x="219.00" y="530.71" width="21.02" height="25.31" fill="#83ff00"/>
<rect x="240.00" y="530.71" width="21.02" height="25.31" fill="#00ff00"/>
<path d="M156.00 404.29H261.00M156.00 429.57H261.00M156.00 454.86H261.00M156.00 480.14H261.00M156.00 505.43H261.00M156.00 530.71H261.00" stroke="#ffffff" stroke-opacity="0.13" stroke-width="0.6" fill="none"/>
<path d="M177.00 379.00V556.00M198.00 379.00V556.00M219.00 379.00V556.00M240.00 379.00V556.00" stroke="#ffffff" stroke-opacity="0.09" stroke-width="0.6" fill="none"/>
<rect x="156.50" y="379.50" width="104.00" height="176.00" fill="none" stroke="#222" stroke-width="1"/>
<rect x="265.00" y="379.00" width="21.02" height="25.31" fill="#ff0000"/>
<rect x="286.00" y="379.00" width="21.02" height="25.31" fill="#ffde00"/>
<rect x="307.00" y="379.00" width="21.02" height="25.31" fill="#ccff00"/>
<rect x="328.00" y="379.00" width="21.02" height="25.31" fill="#81ff00"/>
<rect x="349.00" y="379.00" width="21.02" height="25.31" fill="#00ff00"/>
<rect x="265.00" y="404.29" width="21.02" height="25.31" fill="#ff0000"/>
<rect x="286.00" y="404.29" width="21.02" height="25.31" fill="#ffe000"/>
<rect x="307.00" y="404.29" width="21.02" height="25.31" fill="#caff00"/>
<rect x="328.00" y="404.29" width="21.02" height="25.31" fill="#81ff00"/>
<rect x="349.00" y="404.29" width="21.02" height="25.31" fill="#00ff00"/>
<rect x="265.00" y="429.57" width="21.02" height="25.31" fill="#ff0000"/>
<rect x="286.00" y="429.57" width="21.02" height="25.31" fill="#ffe200"/>
<rect x="307.00" y="429.57" width="21.02" height="25.31" fill="#caff00"/>
<rect x="328.00" y="429.57" width="21.02" height="25.31" fill="#81ff00"/>
<rect x="349.00" y="429.57" width="21.02" height="25.31" fill="#00ff00"/>
<rect x="265.00" y="454.86" width="21.02" height="25.31" fill="#ff0000"/>
<rect x="286.00" y="454.86" width="21.02" height="25.31" fill="#ffe400"/>
<rect x="307.00" y="454.86" width="21.02" height="25.31" fill="#c6ff00"/>
<rect x="328.00" y="454.86" width="21.02" height="25.31" fill="#81ff00"/>
<rect x="349.00" y="454.86" width="21.02" height="25.31" fill="#00ff00"/>
<rect x="265.00" y="480.14" width="21.02" height="25.31" fill="#ff0000"/>
<rect x="286.00" y="480.14" width="21.02" height="25.31" fill="#ffe000"/>
<rect x="307.00" y="480.14" width="21.02" height="25.31" fill="#caff00"/>
<rect x="328.00" y="480.14" width="21.02" height="25.31" fill="#81ff00"/>
<rect x="349.00" y="480.14" width="21.02" height="25.31" fill="#00ff00"/>
<rect x="265.00" y="505.43" width="21.02" height="25.31" fill="#ff0000"/>
<rect x="286.00" y="505.43" width="21.02" height="25.31" fill="#ffde00"/>
<rect x="307.00" y="505.43" width="21.02" height="25.31" fill="#caff00"/>
<rect x="328.00" y="505.43" width="21.02" height="25.31" fill="#81ff00"/>
<rect x="349.00" y="505.43" width="21.02" height="25.31" fill="#00ff00"/>
<rect x="265.00" y="530.71" width="21.02" height="25.31" fill="#ff0000"/>
<rect x="286.00" y="530.71" width="21.02" height="25.31" fill="#ffde00"/>
<rect x="307.00" y="530.71" width="21.02" height="25.31" fill="#caff00"/>
<rect x="328.00" y="530.71" width="21.02" height="25.31" fill="#81ff00"/>
<rect x="349.00" y="530.71" width="21.02" height="25.31" fill="#00ff00"/>
<path d="M265.00 404.29H370.00M265.00 429.57H370.00M265.00 454.86H370.00M265.00 480.14H370.00M265.00 505.43H370.00M265.00 530.71H370.00" stroke="#ffffff" stroke-opacity="0.13" stroke-width="0.6" fill="none"/>
<path d="M286.00 379.00V556.00M307.00 379.00V556.00M328.00 379.00V556.00M349.00 379.00V556.00" stroke="#ffffff" stroke-opacity="0.09" stroke-width="0.6" fill="none"/>
<rect x="265.50" y="379.50" width="104.00" height="176.00" fill="none" stroke="#222" stroke-width="1"/>
<rect x="374.60" y="379.00" width="20.90" height="25.31" fill="#ff0000"/>
<rect x="395.48" y="379.00" width="20.90" height="25.31" fill="#97ff00"/>
<rect x="416.36" y="379.00" width="20.90" height="25.31" fill="#77ff00"/>
<rect x="437.24" y="379.00" width="20.90" height="25.31" fill="#6aff00"/>
<rect x="458.12" y="379.00" width="20.90" height="25.31" fill="#00ff00"/>
<rect x="374.60" y="404.29" width="20.90" height="25.31" fill="#ff0000"/>
<rect x="395.48" y="404.29" width="20.90" height="25.31" fill="#97ff00"/>
<rect x="416.36" y="404.29" width="20.90" height="25.31" fill="#77ff00"/>
<rect x="437.24" y="404.29" width="20.90" height="25.31" fill="#6aff00"/>
<rect x="458.12" y="404.29" width="20.90" height="25.31" fill="#00ff00"/>
<rect x="374.60" y="429.57" width="20.90" height="25.31" fill="#ff0000"/>
<rect x="395.48" y="429.57" width="20.90" height="25.31" fill="#f6ff00"/>
<rect x="416.36" y="429.57" width="20.90" height="25.31" fill="#aaff00"/>
<rect x="437.24" y="429.57" width="20.90" height="25.31" fill="#77ff00"/>
<rect x="458.12" y="429.57" width="20.90" height="25.31" fill="#00ff00"/>
<rect x="374.60" y="454.86" width="20.90" height="25.31" fill="#ff0000"/>
<rect x="395.48" y="454.86" width="20.90" height="25.31" fill="#eaff00"/>
<rect x="416.36" y="454.86" width="20.90" height="25.31" fill="#aaff00"/>
<rect x="437.24" y="454.86" width="20.90" height="25.31" fill="#77ff00"/>
<rect x="458.12" y="454.86" width="20.90" height="25.31" fill="#00ff00"/>
<rect x="374.60" y="480.14" width="20.90" height="25.31" fill="#ff0000"/>
<rect x="395.48" y="480.14" width="20.90" height="25.31" fill="#8eff00"/>
<rect x="416.36" y="480.14" width="20.90" height="25.31" fill="#72ff00"/>
<rect x="437.24" y="480.14" width="20.90" height="25.31" fill="#6aff00"/>
<rect x="458.12" y="480.14" width="20.90" height="25.31" fill="#00ff00"/>
<rect x="374.60" y="505.43" width="20.90" height="25.31" fill="#ff0000"/>
<rect x="395.48" y="505.43" width="20.90" height="25.31" fill="#8eff00"/>
<rect x="416.36" y="505.43" width="20.90" height="25.31" fill="#72ff00"/>
<rect x="437.24" y="505.43" width="20.90" height="25.31" fill="#6aff00"/>
<rect x="458.12" y="505.43" width="20.90" height="25.31" fill="#00ff00"/>
<rect x="374.60" y="530.71" width="20.90" height="25.31" fill="#ff0000"/>
<rect x="395.48" y="530.71" width="20.90" height="25.31" fill="#f9ff00"/>
<rect x="416.36" y="530.71" width="20.90" height="25.31" fill="#aaff00"/>
<rect x="437.24" y="530.71" width="20.90" height="25.31" fill="#77ff00"/>
<rect x="458.12" y="530.71" width="20.90" height="25.31" fill="#00ff00"/>
<path d="M374.60 404.29H479.00M374.60 429.57H479.00M374.60 454.86H479.00M374.60 480.14H479.00M374.60 505.43H479.00M374.60 530.71H479.00" stroke="#ffffff" stroke-opacity="0.13" stroke-width="0.6" fill="none"/>
<path d="M395.48 379.00V556.00M416.36 379.00V556.00M437.24 379.00V556.00M458.12 379.00V556.00" stroke="#ffffff" stroke-opacity="0.09" stroke-width="0.6" fill="none"/>
<rect x="375.10" y="379.50" width="103.40" height="176.00" fill="none" stroke="#222" stroke-width="1"/>
<rect x="47.00" y="561.00" width="20.82" height="25.36" fill="#ff0000"/>
<rect x="67.80" y="561.00" width="20.82" height="25.36" fill="#ffed00"/>
<rect x="88.60" y="561.00" width="20.82" height="25.36" fill="#ccff00"/>
<rect x="109.40" y="561.00" width="20.82" height="25.36" fill="#81ff00"/>
<rect x="130.20" y="561.00" width="20.82" height="25.36" fill="#00ff00"/>
<rect x="47.00" y="586.34" width="20.82" height="25.36" fill="#ff0000"/>
<rect x="67.80" y="586.34" width="20.82" height="25.36" fill="#ffeb00"/>
<rect x="88.60" y="586.34" width="20.82" height="25.36" fill="#caff00"/>
<rect x="109.40" y="586.34" width="20.82" height="25.36" fill="#81ff00"/>
<rect x="130.20" y="586.34" width="20.82" height="25.36" fill="#00ff00"/>
<rect x="47.00" y="611.69" width="20.82" height="25.36" fill="#ff0000"/>
<rect x="67.80" y="611.69" width="20.82" height="25.36" fill="#ffe200"/>
<rect x="88.60" y="611.69" width="20.82" height="25.36" fill="#caff00"/>
<rect x="109.40" y="611.69" width="20.82" height="25.36" fill="#81ff00"/>
<rect x="130.20" y="611.69" width="20.82" height="25.36" fill="#00ff00"/>
<rect x="47.00" y="637.03" width="20.82" height="25.36" fill="#ff0000"/>
<rect x="67.80" y="637.03" width="20.82" height="25.36" fill="#f6ff00"/>
<rect x="88.60" y="637.03" width="20.82" height="25.36" fill="#aaff00"/>
<rect x="109.40" y="637.03" width="20.82" height="25.36" fill="#75ff00"/>
<rect x="130.20" y="637.03" width="20.82" height="25.36" fill="#00ff00"/>
<rect x="47.00" y="662.37" width="20.82" height="25.36" fill="#ff0000"/>
<rect x="67.80" y="662.37" width="20.82" height="25.36" fill="#ffed00"/>
<rect x="88.60" y="662.37" width="20.82" height="25.36" fill="#c6ff00"/>
<rect x="109.40" y="662.37" width="20.82" height="25.36" fill="#81ff00"/>
<rect x="130.20" y="662.37" width="20.82" height="25.36" fill="#00ff00"/>
<rect x="47.00" y="687.71" width="20.82" height="25.36" fill="#ff0000"/>
<rect x="67.80" y="687.71" width="20.82" height="25.36" fill="#ffed00"/>
<rect x="88.60" y="687.71" width="20.82" height="25.36" fill="#c6ff00"/>
<rect x="109.40" y="687.71" width="20.82" height="25.36" fill="#81ff00"/>
<rect x="130.20" y="687.71" width="20.82" height="25.36" fill="#00ff00"/>
<rect x="47.00" y="713.06" width="20.82" height="25.36" fill="#ff0000"/>
<rect x="67.80" y="713.06" width="20.82" height="25.36" fill="#ffed00"/>
<rect x="88.60" y="713.06" width="20.82" height="25.36" fill="#c3ff00"/>
<rect x="109.40" y="713.06" width="20.82" height="25.36" fill="#81ff00"/>
<rect x="130.20" y="713.06" width="20.82" height="25.36" fill="#00ff00"/>
<path d="M47.00 586.34H151.00M47.00 611.69H151.00M47.00 637.03H151.00M47.00 662.37H151.00M47.00 687.71H151.00M47.00 713.06H151.00" stroke="#ffffff" stroke-opacity="0.13" stroke-width="0.6" fill="none"/>
<path d="M67.80 561.00V738.40M88.60 561.00V738.40M109.40 561.00V738.40M130.20 561.00V738.40" stroke="#ffffff" stroke-opacity="0.09" stroke-width="0.6" fill="none"/>
<rect x="47.50" y="561.50" width="103.00" height="176.40" fill="none" stroke="#222" stroke-width="1"/>
<rect x="156.00" y="561.00" width="21.02" height="25.36" fill="#ff0000"/>
<rect x="177.00" y="561.00" width="21.02" height="25.36" fill="#ffe600"/>
<rect x="198.00" y="561.00" width="21.02" height="25.36" fill="#caff00"/>
<rect x="219.00" y="561.00" width="21.02" height="25.36" fill="#81ff00"/>
<rect x="240.00" y="561.00" width="21.02" height="25.36" fill="#00ff00"/>
<rect x="156.00" y="586.34" width="21.02" height="25.36" fill="#ff0000"/>
<rect x="177.00" y="586.34" width="21.02" height="25.36" fill="#ffe600"/>
<rect x="198.00" y="586.34" width="21.02" height="25.36" fill="#caff00"/>
<rect x="219.00" y="586.34" width="21.02" height="25.36" fill="#81ff00"/>
<rect x="240.00" y="586.34" width="21.02" height="25.36" fill="#00ff00"/>
<rect x="156.00" y="611.69" width="21.02" height="25.36" fill="#ff0000"/>
<rect x="177.00" y="611.69" width="21.02" height="25.36" fill="#ffe600"/>
<rect x="198.00" y="611.69" width="21.02" height="25.36" fill="#caff00"/>
<rect x="219.00" y="611.69" width="21.02" height="25.36" fill="#81ff00"/>
<rect x="240.00" y="611.69" width="21.02" height="25.36" fill="#00ff00"/>
<rect x="156.00" y="637.03" width="21.02" height="25.36" fill="#ff0000"/>
<rect x="177.00" y="637.03" width="21.02" height="25.36" fill="#fff000"/>
<rect x="198.00" y="637.03" width="21.02" height="25.36" fill="#c5ff00"/>
<rect x="219.00" y="637.03" width="21.02" height="25.36" fill="#7eff00"/>
<rect x="240.00" y="637.03" width="21.02" height="25.36" fill="#00ff00"/>
<rect x="156.00" y="662.37" width="21.02" height="25.36" fill="#ff0000"/>
<rect x="177.00" y="662.37" width="21.02" height="25.36" fill="#ffe600"/>
<rect x="198.00" y="662.37" width="21.02" height="25.36" fill="#caff00"/>
<rect x="219.00" y="662.37" width="21.02" height="25.36" fill="#81ff00"/>
<rect x="240.00" y="662.37" width="21.02" height="25.36" fill="#00ff00"/>
<rect x="156.00" y="687.71" width="21.02" height="25.36" fill="#ff0000"/>
<rect x="177.00" y="687.71" width="21.02" height="25.36" fill="#ffe600"/>
<rect x="198.00" y="687.71" width="21.02" height="25.36" fill="#caff00"/>
<rect x="219.00" y="687.71" width="21.02" height="25.36" fill="#81ff00"/>
<rect x="240.00" y="687.71" width="21.02" height="25.36" fill="#00ff00"/>
<rect x="156.00" y="713.06" width="21.02" height="25.36" fill="#ff0000"/>
<rect x="177.00" y="713.06" width="21.02" height="25.36" fill="#ffe600"/>
<rect x="198.00" y="713.06" width="21.02" height="25.36" fill="#caff00"/>
<rect x="219.00" y="713.06" width="21.02" height="25.36" fill="#81ff00"/>
<rect x="240.00" y="713.06" width="21.02" height="25.36" fill="#00ff00"/>
<path d="M156.00 586.34H261.00M156.00 611.69H261.00M156.00 637.03H261.00M156.00 662.37H261.00M156.00 687.71H261.00M156.00 713.06H261.00" stroke="#ffffff" stroke-opacity="0.13" stroke-width="0.6" fill="none"/>
<path d="M177.00 561.00V738.40M198.00 561.00V738.40M219.00 561.00V738.40M240.00 561.00V738.40" stroke="#ffffff" stroke-opacity="0.09" stroke-width="0.6" fill="none"/>
<rect x="156.50" y="561.50" width="104.00" height="176.40" fill="none" stroke="#222" stroke-width="1"/>
<rect x="265.00" y="561.00" width="21.02" height="25.36" fill="#ff0000"/>
<rect x="286.00" y="561.00" width="21.02" height="25.36" fill="#ffe900"/>
<rect x="307.00" y="561.00" width="21.02" height="25.36" fill="#c5ff00"/>
<rect x="328.00" y="561.00" width="21.02" height="25.36" fill="#81ff00"/>
<rect x="349.00" y="561.00" width="21.02" height="25.36" fill="#00ff00"/>
<rect x="265.00" y="586.34" width="21.02" height="25.36" fill="#ff0000"/>
<rect x="286.00" y="586.34" width="21.02" height="25.36" fill="#ffe900"/>
<rect x="307.00" y="586.34" width="21.02" height="25.36" fill="#c5ff00"/>
<rect x="328.00" y="586.34" width="21.02" height="25.36" fill="#81ff00"/>
<rect x="349.00" y="586.34" width="21.02" height="25.36" fill="#00ff00"/>
<rect x="265.00" y="611.69" width="21.02" height="25.36" fill="#ff0000"/>
<rect x="286.00" y="611.69" width="21.02" height="25.36" fill="#ffe900"/>
<rect x="307.00" y="611.69" width="21.02" height="25.36" fill="#c5ff00"/>
<rect x="328.00" y="611.69" width="21.02" height="25.36" fill="#81ff00"/>
<rect x="349.00" y="611.69" width="21.02" height="25.36" fill="#00ff00"/>
<rect x="265.00" y="637.03" width="21.02" height="25.36" fill="#ff0000"/>
<rect x="286.00" y="637.03" width="21.02" height="25.36" fill="#fff600"/>
<rect x="307.00" y="637.03" width="21.02" height="25.36" fill="#c0ff00"/>
<rect x="328.00" y="637.03" width="21.02" height="25.36" fill="#7eff00"/>
<rect x="349.00" y="637.03" width="21.02" height="25.36" fill="#00ff00"/>
<rect x="265.00" y="662.37" width="21.02" height="25.36" fill="#ff0000"/>
<rect x="286.00" y="662.37" width="21.02" height="25.36" fill="#ffe900"/>
<rect x="307.00" y="662.37" width="21.02" height="25.36" fill="#c5ff00"/>
<rect x="328.00" y="662.37" width="21.02" height="25.36" fill="#81ff00"/>
<rect x="349.00" y="662.37" width="21.02" height="25.36" fill="#00ff00"/>
<rect x="265.00" y="687.71" width="21.02" height="25.36" fill="#ff0000"/>
<rect x="286.00" y="687.71" width="21.02" height="25.36" fill="#ffe900"/>
<rect x="307.00" y="687.71" width="21.02" height="25.36" fill="#c5ff00"/>
<rect x="328.00" y="687.71" width="21.02" height="25.36" fill="#81ff00"/>
<rect x="349.00" y="687.71" width="21.02" height="25.36" fill="#00ff00"/>
<rect x="265.00" y="713.06" width="21.02" height="25.36" fill="#ff0000"/>
<rect x="286.00" y="713.06" width="21.02" height="25.36" fill="#ffe900"/>
<rect x="307.00" y="713.06" width="21.02" height="25.36" fill="#c5ff00"/>
<rect x="328.00" y="713.06" width="21.02" height="25.36" fill="#81ff00"/>
<rect x="349.00" y="713.06" width="21.02" height="25.36" fill="#00ff00"/>
<path d="M265.00 586.34H370.00M265.00 611.69H370.00M265.00 637.03H370.00M265.00 662.37H370.00M265.00 687.71H370.00M265.00 713.06H370.00" stroke="#ffffff" stroke-opacity="0.13" stroke-width="0.6" fill="none"/>
<path d="M286.00 561.00V738.40M307.00 561.00V738.40M328.00 561.00V738.40M349.00 561.00V738.40" stroke="#ffffff" stroke-opacity="0.09" stroke-width="0.6" fill="none"/>
<rect x="265.50" y="561.50" width="104.00" height="176.40" fill="none" stroke="#222" stroke-width="1"/>
<rect x="374.60" y="561.00" width="20.90" height="25.36" fill="#ff0000"/>
<rect x="395.48" y="561.00" width="20.90" height="25.36" fill="#8eff00"/>
<rect x="416.36" y="561.00" width="20.90" height="25.36" fill="#72ff00"/>
<rect x="437.24" y="561.00" width="20.90" height="25.36" fill="#64ff00"/>
<rect x="458.12" y="561.00" width="20.90" height="25.36" fill="#00ff00"/>
<rect x="374.60" y="586.34" width="20.90" height="25.36" fill="#ff0000"/>
<rect x="395.48" y="586.34" width="20.90" height="25.36" fill="#8eff00"/>
<rect x="416.36" y="586.34" width="20.90" height="25.36" fill="#6dff00"/>
<rect x="437.24" y="586.34" width="20.90" height="25.36" fill="#64ff00"/>
<rect x="458.12" y="586.34" width="20.90" height="25.36" fill="#00ff00"/>
<rect x="374.60" y="611.69" width="20.90" height="25.36" fill="#ff0000"/>
<rect x="395.48" y="611.69" width="20.90" height="25.36" fill="#fcff00"/>
<rect x="416.36" y="611.69" width="20.90" height="25.36" fill="#b5ff00"/>
<rect x="437.24" y="611.69" width="20.90" height="25.36" fill="#7cff00"/>
<rect x="458.12" y="611.69" width="20.90" height="25.36" fill="#00ff00"/>
<rect x="374.60" y="637.03" width="20.90" height="25.36" fill="#ff0000"/>
<rect x="395.48" y="637.03" width="20.90" height="25.36" fill="#f6ff00"/>
<rect x="416.36" y="637.03" width="20.90" height="25.36" fill="#aeff00"/>
<rect x="437.24" y="637.03" width="20.90" height="25.36" fill="#7cff00"/>
<rect x="458.12" y="637.03" width="20.90" height="25.36" fill="#00ff00"/>
<rect x="374.60" y="662.37" width="20.90" height="25.36" fill="#ff0000"/>
<rect x="395.48" y="662.37" width="20.90" height="25.36" fill="#8eff00"/>
<rect x="416.36" y="662.37" width="20.90" height="25.36" fill="#6dff00"/>
<rect x="437.24" y="662.37" width="20.90" height="25.36" fill="#64ff00"/>
<rect x="458.12" y="662.37" width="20.90" height="25.36" fill="#00ff00"/>
<rect x="374.60" y="687.71" width="20.90" height="25.36" fill="#ff0000"/>
<rect x="395.48" y="687.71" width="20.90" height="25.36" fill="#8eff00"/>
<rect x="416.36" y="687.71" width="20.90" height="25.36" fill="#6dff00"/>
<rect x="437.24" y="687.71" width="20.90" height="25.36" fill="#64ff00"/>
<rect x="458.12" y="687.71" width="20.90" height="25.36" fill="#00ff00"/>
<rect x="374.60" y="713.06" width="20.90" height="25.36" fill="#ff0000"/>
<rect x="395.48" y="713.06" width="20.90" height="25.36" fill="#fffb00"/>
<rect x="416.36" y="713.06" width="20.90" height="25.36" fill="#b2ff00"/>
<rect x="437.24" y="713.06" width="20.90" height="25.36" fill="#7cff00"/>
<rect x="458.12" y="713.06" width="20.90" height="25.36" fill="#00ff00"/>
<path d="M374.60 586.34H479.00M374.60 611.69H479.00M374.60 637.03H479.00M374.60 662.37H479.00M374.60 687.71H479.00M374.60 713.06H479.00" stroke="#ffffff" stroke-opacity="0.13" stroke-width="0.6" fill="none"/>
<path d="M395.48 561.00V738.40M416.36 561.00V738.40M437.24 561.00V738.40M458.12 561.00V738.40" stroke="#ffffff" stroke-opacity="0.09" stroke-width="0.6" fill="none"/>
<rect x="375.10" y="561.50" width="103.40" height="176.40" fill="none" stroke="#222" stroke-width="1"/>
<text transform="translate(42.6 30.74) scale(0.940 1)" font-size="8.90" fill="#4d4d4d" stroke="#4d4d4d" stroke-width="0.08" text-anchor="end">WLSE</text>
<text transform="translate(42.6 56.03) scale(0.940 1)" font-size="8.90" fill="#4d4d4d" stroke="#4d4d4d" stroke-width="0.08" text-anchor="end">RADE</text>
<text transform="translate(42.6 81.31) scale(0.940 1)" font-size="8.90" fill="#4d4d4d" stroke="#4d4d4d" stroke-width="0.08" text-anchor="end">MPSE</text>
<text transform="translate(42.6 106.60) scale(0.940 1)" font-size="8.90" fill="#4d4d4d" stroke="#4d4d4d" stroke-width="0.08" text-anchor="end">MLE</text>
<text transform="translate(42.6 131.89) scale(0.940 1)" font-size="8.90" fill="#4d4d4d" stroke="#4d4d4d" stroke-width="0.08" text-anchor="end">LSE</text>
<text transform="translate(42.6 157.17) scale(0.940 1)" font-size="8.90" fill="#4d4d4d" stroke="#4d4d4d" stroke-width="0.08" text-anchor="end">CVME</text>
<text transform="translate(42.6 182.46) scale(0.940 1)" font-size="8.90" fill="#4d4d4d" stroke="#4d4d4d" stroke-width="0.08" text-anchor="end">ADE</text>
<path d="M44.4 27.64H47.5M44.4 52.93H47.5M44.4 78.21H47.5M44.4 103.50H47.5M44.4 128.79H47.5M44.4 154.07H47.5M44.4 179.36H47.5" stroke="#333" stroke-width="1" fill="none"/>
<text transform="translate(42.6 212.74) scale(0.940 1)" font-size="8.90" fill="#4d4d4d" stroke="#4d4d4d" stroke-width="0.08" text-anchor="end">WLSE</text>
<text transform="translate(42.6 238.03) scale(0.940 1)" font-size="8.90" fill="#4d4d4d" stroke="#4d4d4d" stroke-width="0.08" text-anchor="end">RADE</text>
<text transform="translate(42.6 263.31) scale(0.940 1)" font-size="8.90" fill="#4d4d4d" stroke="#4d4d4d" stroke-width="0.08" text-anchor="end">MPSE</text>
<text transform="translate(42.6 288.60) scale(0.940 1)" font-size="8.90" fill="#4d4d4d" stroke="#4d4d4d" stroke-width="0.08" text-anchor="end">MLE</text>
<text transform="translate(42.6 313.89) scale(0.940 1)" font-size="8.90" fill="#4d4d4d" stroke="#4d4d4d" stroke-width="0.08" text-anchor="end">LSE</text>
<text transform="translate(42.6 339.17) scale(0.940 1)" font-size="8.90" fill="#4d4d4d" stroke="#4d4d4d" stroke-width="0.08" text-anchor="end">CVME</text>
<text transform="translate(42.6 364.46) scale(0.940 1)" font-size="8.90" fill="#4d4d4d" stroke="#4d4d4d" stroke-width="0.08" text-anchor="end">ADE</text>
<path d="M44.4 209.64H47.5M44.4 234.93H47.5M44.4 260.21H47.5M44.4 285.50H47.5M44.4 310.79H47.5M44.4 336.07H47.5M44.4 361.36H47.5" stroke="#333" stroke-width="1" fill="none"/>
<text transform="translate(42.6 394.74) scale(0.940 1)" font-size="8.90" fill="#4d4d4d" stroke="#4d4d4d" stroke-width="0.08" text-anchor="end">WLSE</text>
<text transform="translate(42.6 420.03) scale(0.940 1)" font-size="8.90" fill="#4d4d4d" stroke="#4d4d4d" stroke-width="0.08" text-anchor="end">RADE</text>
<text transform="translate(42.6 445.31) scale(0.940 1)" font-size="8.90" fill="#4d4d4d" stroke="#4d4d4d" stroke-width="0.08" text-anchor="end">MPSE</text>
<text transform="translate(42.6 470.60) scale(0.940 1)" font-size="8.90" fill="#4d4d4d" stroke="#4d4d4d" stroke-width="0.08" text-anchor="end">MLE</text>
<text transform="translate(42.6 495.89) scale(0.940 1)" font-size="8.90" fill="#4d4d4d" stroke="#4d4d4d" stroke-width="0.08" text-anchor="end">LSE</text>
<text transform="translate(42.6 521.17) scale(0.940 1)" font-size="8.90" fill="#4d4d4d" stroke="#4d4d4d" stroke-width="0.08" text-anchor="end">CVME</text>
<text transform="translate(42.6 546.46) scale(0.940 1)" font-size="8.90" fill="#4d4d4d" stroke="#4d4d4d" stroke-width="0.08" text-anchor="end">ADE</text>
<path d="M44.4 391.64H47.5M44.4 416.93H47.5M44.4 442.21H47.5M44.4 467.50H47.5M44.4 492.79H47.5M44.4 518.07H47.5M44.4 543.36H47.5" stroke="#333" stroke-width="1" fill="none"/>
<text transform="translate(42.6 576.77) scale(0.940 1)" font-size="8.90" fill="#4d4d4d" stroke="#4d4d4d" stroke-width="0.08" text-anchor="end">WLSE</text>
<text transform="translate(42.6 602.11) scale(0.940 1)" font-size="8.90" fill="#4d4d4d" stroke="#4d4d4d" stroke-width="0.08" text-anchor="end">RADE</text>
<text transform="translate(42.6 627.46) scale(0.940 1)" font-size="8.90" fill="#4d4d4d" stroke="#4d4d4d" stroke-width="0.08" text-anchor="end">MPSE</text>
<text transform="translate(42.6 652.80) scale(0.940 1)" font-size="8.90" fill="#4d4d4d" stroke="#4d4d4d" stroke-width="0.08" text-anchor="end">MLE</text>
<text transform="translate(42.6 678.14) scale(0.940 1)" font-size="8.90" fill="#4d4d4d" stroke="#4d4d4d" stroke-width="0.08" text-anchor="end">LSE</text>
<text transform="translate(42.6 703.49) scale(0.940 1)" font-size="8.90" fill="#4d4d4d" stroke="#4d4d4d" stroke-width="0.08" text-anchor="end">CVME</text>
<text transform="translate(42.6 728.83) scale(0.940 1)" font-size="8.90" fill="#4d4d4d" stroke="#4d4d4d" stroke-width="0.08" text-anchor="end">ADE</text>
<path d="M44.4 573.67H47.5M44.4 599.01H47.5M44.4 624.36H47.5M44.4 649.70H47.5M44.4 675.04H47.5M44.4 700.39H47.5M44.4 725.73H47.5" stroke="#333" stroke-width="1" fill="none"/>
<text transform="translate(63.80 749.4) rotate(-90) scale(0.910 1)" font-size="8.80" fill="#4d4d4d" stroke="#4d4d4d" stroke-width="0.08" text-anchor="middle">10</text>
<text transform="translate(84.60 749.4) rotate(-90) scale(0.910 1)" font-size="8.80" fill="#4d4d4d" stroke="#4d4d4d" stroke-width="0.08" text-anchor="middle">25</text>
<text transform="translate(105.40 749.4) rotate(-90) scale(0.910 1)" font-size="8.80" fill="#4d4d4d" stroke="#4d4d4d" stroke-width="0.08" text-anchor="middle">50</text>
<text transform="translate(126.20 749.4) rotate(-90) scale(0.910 1)" font-size="8.80" fill="#4d4d4d" stroke="#4d4d4d" stroke-width="0.08" text-anchor="middle">100</text>
<text transform="translate(147.00 749.4) rotate(-90) scale(0.910 1)" font-size="8.80" fill="#4d4d4d" stroke="#4d4d4d" stroke-width="0.08" text-anchor="middle">250</text>
<text transform="translate(172.90 749.4) rotate(-90) scale(0.910 1)" font-size="8.80" fill="#4d4d4d" stroke="#4d4d4d" stroke-width="0.08" text-anchor="middle">10</text>
<text transform="translate(193.90 749.4) rotate(-90) scale(0.910 1)" font-size="8.80" fill="#4d4d4d" stroke="#4d4d4d" stroke-width="0.08" text-anchor="middle">25</text>
<text transform="translate(214.90 749.4) rotate(-90) scale(0.910 1)" font-size="8.80" fill="#4d4d4d" stroke="#4d4d4d" stroke-width="0.08" text-anchor="middle">50</text>
<text transform="translate(235.90 749.4) rotate(-90) scale(0.910 1)" font-size="8.80" fill="#4d4d4d" stroke="#4d4d4d" stroke-width="0.08" text-anchor="middle">100</text>
<text transform="translate(256.90 749.4) rotate(-90) scale(0.910 1)" font-size="8.80" fill="#4d4d4d" stroke="#4d4d4d" stroke-width="0.08" text-anchor="middle">250</text>
<text transform="translate(281.90 749.4) rotate(-90) scale(0.910 1)" font-size="8.80" fill="#4d4d4d" stroke="#4d4d4d" stroke-width="0.08" text-anchor="middle">10</text>
<text transform="translate(302.90 749.4) rotate(-90) scale(0.910 1)" font-size="8.80" fill="#4d4d4d" stroke="#4d4d4d" stroke-width="0.08" text-anchor="middle">25</text>
<text transform="translate(323.90 749.4) rotate(-90) scale(0.910 1)" font-size="8.80" fill="#4d4d4d" stroke="#4d4d4d" stroke-width="0.08" text-anchor="middle">50</text>
<text transform="translate(344.90 749.4) rotate(-90) scale(0.910 1)" font-size="8.80" fill="#4d4d4d" stroke="#4d4d4d" stroke-width="0.08" text-anchor="middle">100</text>
<text transform="translate(365.90 749.4) rotate(-90) scale(0.910 1)" font-size="8.80" fill="#4d4d4d" stroke="#4d4d4d" stroke-width="0.08" text-anchor="middle">250</text>
<text transform="translate(391.44 749.4) rotate(-90) scale(0.910 1)" font-size="8.80" fill="#4d4d4d" stroke="#4d4d4d" stroke-width="0.08" text-anchor="middle">10</text>
<text transform="translate(412.32 749.4) rotate(-90) scale(0.910 1)" font-size="8.80" fill="#4d4d4d" stroke="#4d4d4d" stroke-width="0.08" text-anchor="middle">25</text>
<text transform="translate(433.20 749.4) rotate(-90) scale(0.910 1)" font-size="8.80" fill="#4d4d4d" stroke="#4d4d4d" stroke-width="0.08" text-anchor="middle">50</text>
<text transform="translate(454.08 749.4) rotate(-90) scale(0.910 1)" font-size="8.80" fill="#4d4d4d" stroke="#4d4d4d" stroke-width="0.08" text-anchor="middle">100</text>
<text transform="translate(474.96 749.4) rotate(-90) scale(0.910 1)" font-size="8.80" fill="#4d4d4d" stroke="#4d4d4d" stroke-width="0.08" text-anchor="middle">250</text>
<path d="M57.40 737.90V741.00M78.20 737.90V741.00M99.00 737.90V741.00M119.80 737.90V741.00M140.60 737.90V741.00M166.50 737.90V741.00M187.50 737.90V741.00M208.50 737.90V741.00M229.50 737.90V741.00M250.50 737.90V741.00M275.50 737.90V741.00M296.50 737.90V741.00M317.50 737.90V741.00M338.50 737.90V741.00M359.50 737.90V741.00M385.04 737.90V741.00M405.92 737.90V741.00M426.80 737.90V741.00M447.68 737.90V741.00M468.56 737.90V741.00" stroke="#333" stroke-width="1" fill="none"/>
<text transform="translate(99.00 9.7) scale(0.920 1)" font-size="8.40" fill="#1a1a1a" stroke="#1a1a1a" stroke-width="0.14" text-anchor="middle"><tspan font-size="7.81">θ</tspan> = 0.25</text>
<text transform="translate(208.50 9.7) scale(0.920 1)" font-size="8.40" fill="#1a1a1a" stroke="#1a1a1a" stroke-width="0.14" text-anchor="middle"><tspan font-size="7.81">θ</tspan> = 1</text>
<text transform="translate(317.50 9.7) scale(0.920 1)" font-size="8.40" fill="#1a1a1a" stroke="#1a1a1a" stroke-width="0.14" text-anchor="middle"><tspan font-size="7.81">θ</tspan> = 2</text>
<text transform="translate(426.80 9.7) scale(0.920 1)" font-size="8.40" fill="#1a1a1a" stroke="#1a1a1a" stroke-width="0.14" text-anchor="middle"><tspan font-size="7.81">θ</tspan> = 4</text>
<text transform="translate(483.9 103.50) rotate(90)" font-size="8.60" fill="#1a1a1a" stroke="#1a1a1a" stroke-width="0.05" text-anchor="middle" word-spacing="-1.1">ν = 5</text>
<text transform="translate(483.9 285.50) rotate(90)" font-size="8.60" fill="#1a1a1a" stroke="#1a1a1a" stroke-width="0.05" text-anchor="middle" word-spacing="-1.1">ν = 10</text>
<text transform="translate(483.9 467.50) rotate(90)" font-size="8.60" fill="#1a1a1a" stroke="#1a1a1a" stroke-width="0.05" text-anchor="middle" word-spacing="-1.1">ν = 15</text>
<text transform="translate(483.9 649.70) rotate(90)" font-size="8.60" fill="#1a1a1a" stroke="#1a1a1a" stroke-width="0.05" text-anchor="middle" word-spacing="-1.1">ν = 30</text>
<text x="263" y="767.2" font-size="10.15" fill="#000" stroke="#000" stroke-width="0.18" text-anchor="middle">Sample Size</text>
<text transform="translate(12.2 376.3) rotate(-90)" font-size="10.00" fill="#000" stroke="#000" stroke-width="0.18" text-anchor="middle">D<tspan font-size="7.2" dy="1.4">abs</tspan></text>
<defs><linearGradient id="lg" x1="0" y1="0" x2="0" y2="1"><stop offset="0.000" stop-color="#ff0000"/><stop offset="0.025" stop-color="#ff2c00"/><stop offset="0.050" stop-color="#ff4100"/><stop offset="0.075" stop-color="#ff5100"/><stop offset="0.100" stop-color="#ff5f00"/><stop offset="0.125" stop-color="#ff6c00"/><stop offset="0.150" stop-color="#ff7700"/><stop offset="0.175" stop-color="#ff8200"/><stop offset="0.200" stop-color="#ff8d00"/><stop offset="0.225" stop-color="#ff9700"/><stop offset="0.250" stop-color="#ffa100"/><stop offset="0.275" stop-color="#ffab00"/><stop offset="0.300" stop-color="#ffb500"/><stop offset="0.325" stop-color="#ffbf00"/><stop offset="0.350" stop-color="#ffc800"/><stop offset="0.375" stop-color="#ffd100"/><stop offset="0.400" stop-color="#ffdb00"/><stop offset="0.425" stop-color="#ffe400"/><stop offset="0.450" stop-color="#ffed00"/><stop offset="0.475" stop-color="#fff600"/><stop offset="0.500" stop-color="#ffff00"/><stop offset="0.525" stop-color="#f8ff00"/><stop offset="0.550" stop-color="#f0ff00"/><stop offset="0.575" stop-color="#e8ff00"/><stop offset="0.600" stop-color="#e1ff00"/><stop offset="0.625" stop-color="#d9ff00"/><stop offset="0.650" stop-color="#d0ff00"/><stop offset="0.675" stop-color="#c8ff00"/><stop offset="0.700" stop-color="#c0ff00"/><stop offset="0.725" stop-color="#b7ff00"/><stop offset="0.750" stop-color="#aeff00"/><stop offset="0.775" stop-color="#a5ff00"/><stop offset="0.800" stop-color="#9bff00"/><stop offset="0.825" stop-color="#90ff00"/><stop offset="0.850" stop-color="#85ff00"/><stop offset="0.875" stop-color="#7aff00"/><stop offset="0.900" stop-color="#6dff00"/><stop offset="0.925" stop-color="#5eff00"/><stop offset="0.950" stop-color="#4cff00"/><stop offset="0.975" stop-color="#35ff00"/><stop offset="1.000" stop-color="#00ff00"/></linearGradient></defs>
<rect x="510.20" y="336.80" width="15.70" height="79.60" fill="url(#lg)"/>
<text transform="translate(531.4 340.50) scale(0.92 1)" font-size="8.9" fill="#262626" stroke="#262626" stroke-width="0.06">1.0</text>
<text transform="translate(531.4 356.42) scale(0.92 1)" font-size="8.9" fill="#262626" stroke="#262626" stroke-width="0.06">0.8</text>
<text transform="translate(531.4 372.34) scale(0.92 1)" font-size="8.9" fill="#262626" stroke="#262626" stroke-width="0.06">0.6</text>
<text transform="translate(531.4 388.26) scale(0.92 1)" font-size="8.9" fill="#262626" stroke="#262626" stroke-width="0.06">0.4</text>
<text transform="translate(531.4 404.18) scale(0.92 1)" font-size="8.9" fill="#262626" stroke="#262626" stroke-width="0.06">0.2</text>
<text transform="translate(531.4 420.10) scale(0.92 1)" font-size="8.9" fill="#262626" stroke="#262626" stroke-width="0.06">0.0</text>
<path d="M510.20 352.72h3.3M525.90 352.72h-3.3M510.20 368.64h3.3M525.90 368.64h-3.3M510.20 384.56h3.3M525.90 384.56h-3.3M510.20 400.48h3.3M525.90 400.48h-3.3" stroke="#fff" stroke-width="0.6" fill="none"/>
</svg></body></html>
